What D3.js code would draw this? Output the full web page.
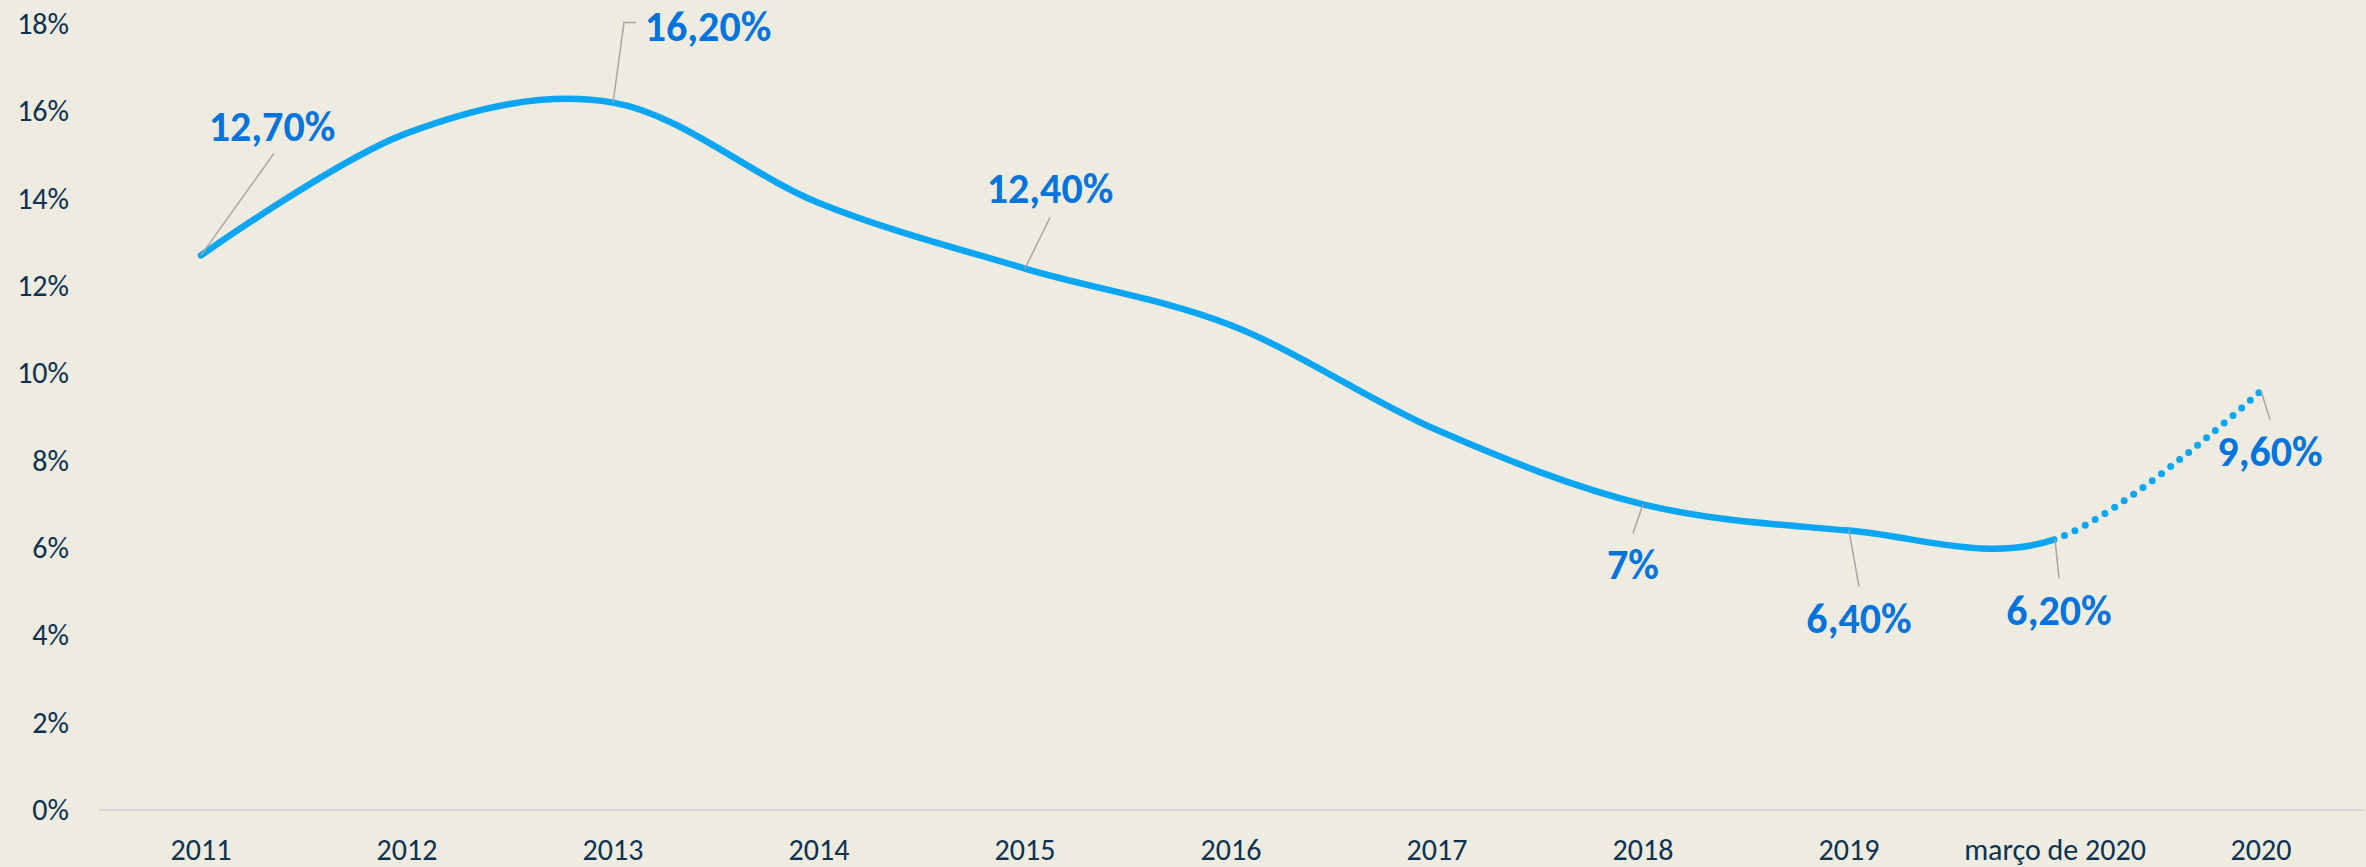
<!DOCTYPE html>
<html>
<head>
<meta charset="utf-8">
<script src="https://cdn.jsdelivr.net/npm/d3@7"></script>
<style>
  html, body { margin: 0; padding: 0; background: #EEEBE0; }
  svg { display: block; }
  .axis text { font-family: Carlito, Calibri, 'Liberation Sans Narrow', 'Open Sans', sans-serif; }
</style>
</head>
<body>
<div id="chart"></div>
<script>
// -------- Data --------
const categories = ['2011', '2012', '2013', '2014', '2015', '2016', '2017', '2018', '2019', 'março de 2020', '2020'];
const rates      = [0.127, 0.155, 0.162, 0.139, 0.124, 0.111, 0.087, 0.070, 0.064, 0.062, 0.096];
const labelText  = ['12,70%', null, '16,20%', null, '12,40%', null, null, '7%', '6,40%', '6,20%', '9,60%'];
const yTickValues = [0, 0.02, 0.04, 0.06, 0.08, 0.10, 0.12, 0.14, 0.16, 0.18];

// label layout (offsets from the point, px)
const labelDx  = [71, 0, 95, 0, 25, 0, 0, -10, 10, 4, 9];
const labelDy  = [-129, 0, -76, 0, -80, 0, 0, 60, 88, 71, 60];
const leaderDx = [73, 0, 23, 0, 25, 0, 0, -10, 10, 4, 9];
const leaderDy = [-102, 0, -80, 0, -51, 0, 0, 29, 56, 39, 29];

// -------- Dimensions --------
const svgWidth = 2366;
const svgHeight = 867;
const fontFamily = "Carlito, Calibri, 'Liberation Sans Narrow', 'Open Sans', sans-serif";

const svg = d3.select('#chart')
  .append('svg')
    .attr('width', svgWidth)
    .attr('height', svgHeight);

svg.append('rect')
  .attr('width', svgWidth)
  .attr('height', svgHeight)
  .attr('fill', '#EEEBE0');

// -------- Scales --------
const xScale = d3.scaleBand()
  .domain(categories)
  .range([98, 2364]);
const xc = c => xScale(c) + xScale.bandwidth() / 2;

const yScale = d3.scaleLinear()
  .domain([0, 0.18])
  .range([810, 24]);

// -------- Axes --------
const xAxisG = svg.append('g')
  .attr('class', 'axis')
  .attr('transform', 'translate(0,809.5)')
  .call(d3.axisBottom(xScale).tickSize(0).tickSizeOuter(0));
xAxisG.select('.domain').attr('stroke', '#D9D9D9').attr('stroke-width', 2);
xAxisG.selectAll('text')
  .attr('y', 40)
  .attr('dy', '0.35em')
  .attr('fill', '#0D3151')
  .style('font-size', '30px');

const yAxisG = svg.append('g')
  .attr('class', 'axis')
  .attr('transform', 'translate(79,0)')
  .call(d3.axisLeft(yScale).tickValues(yTickValues).tickSize(0).tickPadding(10)
    .tickFormat(d => Math.round(d * 100) + '%'));
yAxisG.select('.domain').remove();
yAxisG.selectAll('text')
  .attr('fill', '#0D3151')
  .style('font-size', '30px');

// -------- Line --------
const pts = categories.map((c, i) => ({ c, v: rates[i], i }));
const line = d3.line()
  .x(d => xc(d.c))
  .y(d => yScale(d.v))
  .curve(d3.curveCatmullRom.alpha(0));

const splitX = xc('março de 2020');
const defs = svg.append('defs');
defs.append('clipPath').attr('id', 'clip-solid')
  .append('rect').attr('x', 0).attr('y', 0).attr('width', splitX).attr('height', svgHeight);
defs.append('clipPath').attr('id', 'clip-dot')
  .append('rect').attr('x', splitX).attr('y', 0).attr('width', svgWidth - splitX).attr('height', svgHeight);

svg.append('path')
  .datum(pts)
  .attr('d', line)
  .attr('fill', 'none')
  .attr('stroke', '#0AA5F3')
  .attr('stroke-width', 6.5)
  .attr('stroke-linecap', 'round')
  .attr('clip-path', 'url(#clip-solid)');

svg.append('path')
  .datum(pts.slice(8))
  .attr('d', line)
  .attr('fill', 'none')
  .attr('stroke', '#0AA5F3')
  .attr('stroke-width', 7)
  .attr('stroke-linecap', 'round')
  .attr('stroke-dasharray', '0 11.5')
  .attr('clip-path', 'url(#clip-dot)');

// -------- Leader lines & labels --------
const labelled = pts.filter(d => labelText[d.i]);

svg.selectAll('path.leader')
  .data(labelled)
  .join('path')
    .attr('class', 'leader')
    .attr('fill', 'none')
    .attr('stroke', '#A6A6A6')
    .attr('stroke-width', 1.5)
    .attr('d', d => {
      const x0 = xc(d.c), y0 = yScale(d.v);
      const x1 = x0 + leaderDx[d.i], y1 = y0 + leaderDy[d.i];
      if (d.c === '2013') return `M${x0},${y0}L${x1 - 12},${y1}L${x1},${y1}`;
      return `M${x0},${y0}L${x1},${y1}`;
    });

svg.selectAll('text.label')
  .data(labelled)
  .join('text')
    .attr('class', 'label')
    .attr('x', d => xc(d.c) + labelDx[d.i])
    .attr('y', d => yScale(d.v) + labelDy[d.i])
    .attr('dy', '0.35em')
    .attr('text-anchor', 'middle')
    .attr('fill', '#0074DB')
    .style('font-family', fontFamily)
    .style('font-weight', 'bold')
    .style('font-size', '42px')
    .text(d => labelText[d.i]);
</script>
</body>
</html>
